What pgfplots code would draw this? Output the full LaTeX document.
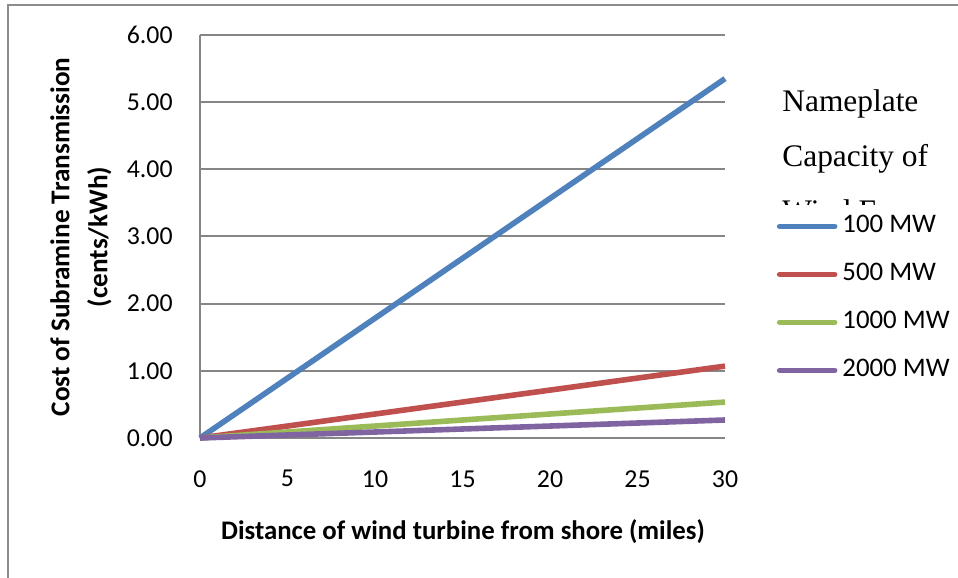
\documentclass[border=0pt]{standalone}
\usepackage{fontspec}
\setmainfont{Carlito}
\newfontfamily\timesf{Liberation Serif}
\usepackage{pgfplots}
\pgfplotsset{compat=1.18}
\definecolor{gridgray}{RGB}{134,134,134}
\definecolor{framegray}{RGB}{140,140,140}
\definecolor{cblue}{RGB}{79,129,189}
\definecolor{cred}{RGB}{192,80,77}
\definecolor{cgreen}{RGB}{155,187,89}
\definecolor{cpurple}{RGB}{128,100,162}
\begin{document}
\begin{tikzpicture}
\useasboundingbox (0,0) rectangle (479pt,289pt);
\draw[framegray, line width=0.8pt] (4pt,-2pt) -- (4pt,286.5pt) -- (482pt,286.5pt);
\begin{axis}[
  at={(100pt,70pt)}, anchor=south west,
  width=262.5pt, height=201.5pt, scale only axis,
  xmin=0, xmax=30, ymin=0, ymax=6,
  xtick={0,5,...,30}, ytick={0,1,...,6},
  axis lines=left,
  axis line style={-, draw=gridgray, line width=1pt},
  ymajorgrids, grid style={draw=gridgray, line width=1pt},
  major tick length=0pt,
  clip=false,
  font=\fontsize{12.9}{15.4}\selectfont,
  /pgf/number format/assume math mode=true,
  yticklabel style={/pgf/number format/.cd, fixed, fixed zerofill, precision=2, /tikz/.cd, inner sep=0pt, anchor=east, xshift=-13.5pt},
  xticklabel style={inner sep=0pt, anchor=north, yshift=-16pt},
  legend style={at={(axis description cs:1.098,0.556)}, anchor=north west, draw=none, fill=none,
    inner sep=0pt, row sep=12pt, column sep=2.5pt,
    nodes={inner sep=0pt, text height=9pt, text depth=3pt, anchor=west},
    font=\fontsize{13.4}{16}\selectfont},
  legend cell align=left,
  legend image code/.code={\draw[#1, line cap=round] (0pt,0pt) -- (27.5pt,0pt);},
]
\addplot[cblue, line width=2.8pt] coordinates {(0,0) (5,0.892) (10,1.783) (15,2.675) (20,3.567) (25,4.458) (30,5.35)};
\addlegendentry{100 MW}
\addplot[cred, line width=2.8pt] coordinates {(0,0) (5,0.178) (10,0.357) (15,0.535) (20,0.713) (25,0.892) (30,1.07)};
\addlegendentry{500 MW}
\addplot[cgreen, line width=2.8pt] coordinates {(0,0) (5,0.089) (10,0.178) (15,0.268) (20,0.357) (25,0.446) (30,0.535)};
\addlegendentry{1000 MW}
\addplot[cpurple, line width=2.8pt] coordinates {(0,0) (5,0.045) (10,0.089) (15,0.134) (20,0.178) (25,0.223) (30,0.268)};
\addlegendentry{2000 MW}
\end{axis}
\node[rotate=90, align=center, font=\bfseries\fontsize{13.6}{19}\selectfont] at (40.5pt,170.5pt) {Cost of Subramine Transmission\\(cents/kWh)};
\node[font=\bfseries\fontsize{13.4}{16}\selectfont] at (231.5pt,23pt) {Distance of wind turbine from shore (miles)};
\begin{scope}[every node/.style={anchor=base west, inner sep=0pt, font=\timesf\fontsize{15.7}{18}\selectfont}]
\node at (391pt,233pt) {Nameplate};
\node at (391pt,205.5pt) {Capacity of};
\clip (380pt,186.5pt) rectangle (479pt,200pt);
\node at (391pt,178pt) {Wind Farm};
\end{scope}
\end{tikzpicture}
\end{document}
